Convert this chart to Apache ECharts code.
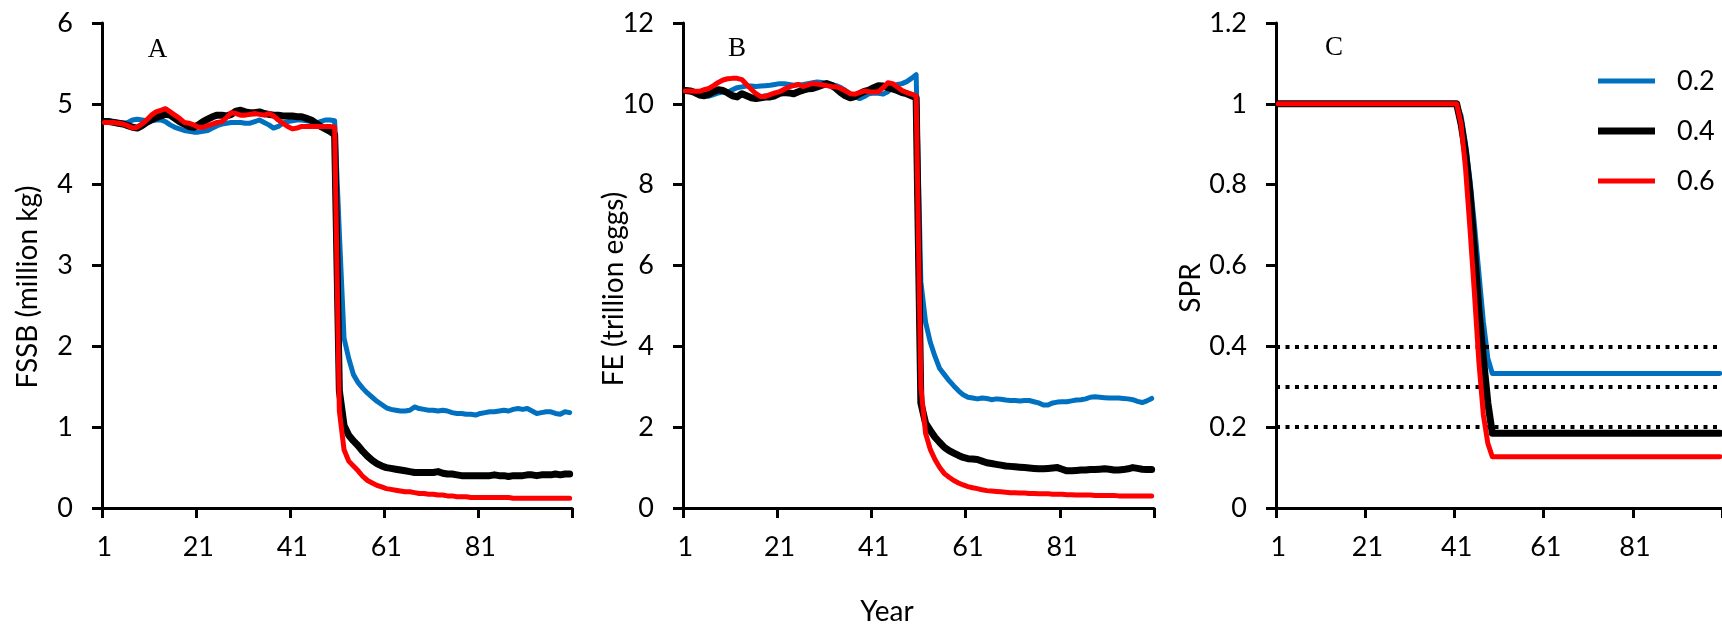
<!DOCTYPE html>
<html>
<head>
<meta charset="utf-8">
<title>FSSB, FE and SPR by year</title>
<script src="https://cdn.jsdelivr.net/npm/echarts@6/dist/echarts.min.js"></script>
<style>
  html, body { margin: 0; padding: 0; background: #ffffff; }
  #chart { width: 1722px; height: 630px; }
</style>
</head>
<body>
<div id="chart"></div>
<script>
// Simulation years 1..100 (category axis)
const years = Array.from({ length: 100 }, (_, i) => String(i + 1));

// Series names (legend) and colours
const seriesNames = ['0.2', '0.4', '0.6'];
const seriesColors = ['#0070C0', '#000000', '#FF0000'];
const seriesWidths = [5, 7, 5];

// Panel A: female spawning stock biomass (million kg)
const fssb02 = [
  4.79, 4.79, 4.78, 4.77, 4.76, 4.77, 4.80, 4.81, 4.80, 4.79,
  4.79, 4.80, 4.80, 4.78, 4.74, 4.71, 4.69, 4.67, 4.66, 4.65,
  4.65, 4.66, 4.67, 4.70, 4.73, 4.75, 4.76, 4.77, 4.77, 4.77,
  4.76, 4.76, 4.78, 4.80, 4.77, 4.74, 4.70, 4.72, 4.76, 4.78,
  4.79, 4.80, 4.80, 4.79, 4.78, 4.76, 4.78, 4.80, 4.80, 4.79,
  3.40, 2.10, 1.85, 1.65, 1.55, 1.48, 1.42, 1.37, 1.32, 1.28,
  1.24, 1.22, 1.21, 1.20, 1.20, 1.21, 1.25, 1.23, 1.22, 1.21,
  1.21, 1.20, 1.21, 1.20, 1.18, 1.17, 1.17, 1.16, 1.16, 1.15,
  1.17, 1.18, 1.19, 1.19, 1.20, 1.21, 1.20, 1.22, 1.23, 1.22,
  1.23, 1.20, 1.17, 1.18, 1.19, 1.19, 1.17, 1.16, 1.19, 1.18
];
const fssb04 = [
  4.78, 4.78, 4.77, 4.76, 4.75, 4.73, 4.71, 4.70, 4.73, 4.77,
  4.80, 4.83, 4.85, 4.87, 4.86, 4.82, 4.78, 4.75, 4.72, 4.71,
  4.74, 4.78, 4.81, 4.84, 4.86, 4.86, 4.85, 4.87, 4.91, 4.92,
  4.90, 4.89, 4.89, 4.90, 4.88, 4.87, 4.86, 4.86, 4.85, 4.85,
  4.85, 4.84, 4.84, 4.82, 4.80, 4.76, 4.72, 4.69, 4.66, 4.62,
  1.45, 1.02, 0.90, 0.83, 0.77, 0.70, 0.64, 0.59, 0.55, 0.52,
  0.50, 0.49, 0.48, 0.47, 0.46, 0.45, 0.44, 0.44, 0.44, 0.44,
  0.44, 0.45, 0.43, 0.42, 0.42, 0.41, 0.40, 0.40, 0.40, 0.40,
  0.40, 0.40, 0.40, 0.41, 0.40, 0.40, 0.39, 0.40, 0.40, 0.40,
  0.41, 0.41, 0.40, 0.41, 0.41, 0.41, 0.42, 0.41, 0.42, 0.42
];
const fssb06 = [
  4.77, 4.77, 4.77, 4.76, 4.75, 4.73, 4.70, 4.71, 4.75, 4.80,
  4.86, 4.90, 4.92, 4.94, 4.90, 4.86, 4.82, 4.77, 4.76, 4.74,
  4.71, 4.71, 4.73, 4.75, 4.77, 4.78, 4.83, 4.89, 4.88, 4.86,
  4.86, 4.87, 4.88, 4.87, 4.86, 4.88, 4.85, 4.80, 4.76, 4.72,
  4.69, 4.70, 4.72, 4.72, 4.72, 4.72, 4.72, 4.72, 4.72, 4.71,
  1.20, 0.72, 0.58, 0.52, 0.46, 0.39, 0.34, 0.31, 0.28, 0.26,
  0.24, 0.23, 0.22, 0.21, 0.20, 0.20, 0.19, 0.18, 0.18, 0.17,
  0.17, 0.16, 0.16, 0.15, 0.15, 0.14, 0.14, 0.14, 0.13, 0.13,
  0.13, 0.13, 0.13, 0.13, 0.13, 0.13, 0.13, 0.12, 0.12, 0.12,
  0.12, 0.12, 0.12, 0.12, 0.12, 0.12, 0.12, 0.12, 0.12, 0.12
];

// Panel B: fecundity (trillion eggs)
const fe02 = [
  10.34, 10.33, 10.30, 10.25, 10.20, 10.19, 10.23, 10.27, 10.29, 10.28,
  10.35, 10.40, 10.42, 10.44, 10.44, 10.43, 10.44, 10.45, 10.46, 10.48,
  10.50, 10.50, 10.48, 10.46, 10.47, 10.48, 10.50, 10.52, 10.54, 10.53,
  10.50, 10.48, 10.45, 10.40, 10.33, 10.25, 10.18, 10.13, 10.18, 10.25,
  10.27, 10.26, 10.24, 10.30, 10.40, 10.48, 10.50, 10.55, 10.63, 10.72,
  5.60, 4.60, 4.10, 3.75, 3.45, 3.30, 3.15, 3.02, 2.90, 2.80,
  2.74, 2.72, 2.70, 2.72, 2.71, 2.68, 2.70, 2.69, 2.67, 2.66,
  2.66, 2.65, 2.66, 2.66, 2.63, 2.60, 2.55, 2.55, 2.60, 2.62,
  2.63, 2.63, 2.65, 2.67, 2.68, 2.70, 2.74, 2.75, 2.74, 2.73,
  2.72, 2.72, 2.72, 2.71, 2.70, 2.68, 2.64, 2.61, 2.65, 2.71
];
const fe04 = [
  10.33, 10.32, 10.28, 10.22, 10.20, 10.24, 10.30, 10.35, 10.33, 10.27,
  10.20, 10.17, 10.25, 10.20, 10.15, 10.13, 10.15, 10.17, 10.17, 10.20,
  10.26, 10.28, 10.27, 10.25, 10.30, 10.34, 10.37, 10.38, 10.42, 10.46,
  10.50, 10.46, 10.38, 10.28, 10.20, 10.15, 10.18, 10.25, 10.31, 10.34,
  10.40, 10.45, 10.44, 10.40, 10.37, 10.33, 10.28, 10.25, 10.20, 10.15,
  2.60, 2.10, 1.92, 1.75, 1.62, 1.50, 1.42, 1.36, 1.30, 1.25,
  1.22, 1.21, 1.20, 1.16, 1.12, 1.10, 1.08, 1.06, 1.04, 1.03,
  1.02, 1.01, 1.00, 0.99, 0.98, 0.97, 0.97, 0.98, 0.99, 1.00,
  0.96, 0.92, 0.92, 0.93, 0.94, 0.94, 0.95, 0.95, 0.96, 0.97,
  0.96, 0.94, 0.94, 0.95, 0.97, 1.00, 0.98, 0.96, 0.95, 0.95
];
const fe06 = [
  10.32, 10.32, 10.31, 10.31, 10.35, 10.38, 10.45, 10.53, 10.59, 10.62,
  10.63, 10.63, 10.60, 10.48, 10.36, 10.25, 10.18, 10.18, 10.23, 10.27,
  10.30, 10.36, 10.42, 10.45, 10.48, 10.43, 10.47, 10.50, 10.49, 10.47,
  10.45, 10.43, 10.42, 10.38, 10.32, 10.25, 10.24, 10.28, 10.32, 10.30,
  10.29, 10.30, 10.40, 10.52, 10.50, 10.42, 10.33, 10.28, 10.24, 10.20,
  3.00, 1.85, 1.45, 1.20, 1.00, 0.85, 0.76, 0.68, 0.62, 0.57,
  0.53, 0.50, 0.48, 0.45, 0.43, 0.42, 0.41, 0.40, 0.39, 0.38,
  0.38, 0.37, 0.37, 0.36, 0.36, 0.35, 0.35, 0.35, 0.34, 0.34,
  0.34, 0.33, 0.33, 0.32, 0.32, 0.32, 0.32, 0.31, 0.31, 0.31,
  0.31, 0.31, 0.30, 0.30, 0.30, 0.30, 0.30, 0.30, 0.30, 0.30
];

// Panel C: spawning potential ratio
const spr02 = [
  1, 1, 1, 1, 1, 1, 1, 1, 1, 1,
  1, 1, 1, 1, 1, 1, 1, 1, 1, 1,
  1, 1, 1, 1, 1, 1, 1, 1, 1, 1,
  1, 1, 1, 1, 1, 1, 1, 1, 1, 1,
  1, 0.97, 0.90, 0.81, 0.70, 0.58, 0.46, 0.37, 0.333, 0.333,
  0.333, 0.333, 0.333, 0.333, 0.333, 0.333, 0.333, 0.333, 0.333, 0.333,
  0.333, 0.333, 0.333, 0.333, 0.333, 0.333, 0.333, 0.333, 0.333, 0.333,
  0.333, 0.333, 0.333, 0.333, 0.333, 0.333, 0.333, 0.333, 0.333, 0.333,
  0.333, 0.333, 0.333, 0.333, 0.333, 0.333, 0.333, 0.333, 0.333, 0.333,
  0.333, 0.333, 0.333, 0.333, 0.333, 0.333, 0.333, 0.333, 0.333, 0.333
];
const spr04 = [
  1, 1, 1, 1, 1, 1, 1, 1, 1, 1,
  1, 1, 1, 1, 1, 1, 1, 1, 1, 1,
  1, 1, 1, 1, 1, 1, 1, 1, 1, 1,
  1, 1, 1, 1, 1, 1, 1, 1, 1, 1,
  1, 0.95, 0.88, 0.78, 0.64, 0.49, 0.37, 0.26, 0.185, 0.185,
  0.185, 0.185, 0.185, 0.185, 0.185, 0.185, 0.185, 0.185, 0.185, 0.185,
  0.185, 0.185, 0.185, 0.185, 0.185, 0.185, 0.185, 0.185, 0.185, 0.185,
  0.185, 0.185, 0.185, 0.185, 0.185, 0.185, 0.185, 0.185, 0.185, 0.185,
  0.185, 0.185, 0.185, 0.185, 0.185, 0.185, 0.185, 0.185, 0.185, 0.185,
  0.185, 0.185, 0.185, 0.185, 0.185, 0.185, 0.185, 0.185, 0.185, 0.185
];
const spr06 = [
  1, 1, 1, 1, 1, 1, 1, 1, 1, 1,
  1, 1, 1, 1, 1, 1, 1, 1, 1, 1,
  1, 1, 1, 1, 1, 1, 1, 1, 1, 1,
  1, 1, 1, 1, 1, 1, 1, 1, 1, 1,
  1, 0.95, 0.84, 0.69, 0.53, 0.36, 0.23, 0.16, 0.127, 0.127,
  0.127, 0.127, 0.127, 0.127, 0.127, 0.127, 0.127, 0.127, 0.127, 0.127,
  0.127, 0.127, 0.127, 0.127, 0.127, 0.127, 0.127, 0.127, 0.127, 0.127,
  0.127, 0.127, 0.127, 0.127, 0.127, 0.127, 0.127, 0.127, 0.127, 0.127,
  0.127, 0.127, 0.127, 0.127, 0.127, 0.127, 0.127, 0.127, 0.127, 0.127,
  0.127, 0.127, 0.127, 0.127, 0.127, 0.127, 0.127, 0.127, 0.127, 0.127
];

// SPR reference levels (dotted lines)
const sprReferenceLevels = [0.4, 0.3, 0.2];

// Panel letters and axis titles
const panelLetters = ['A', 'B', 'C'];
const yAxisTitles = ['FSSB (million kg)', 'FE (trillion eggs)', 'SPR'];
const xAxisTitle = 'Year';

// Y-axis ranges per panel
const yRanges = [
  { min: 0, max: 6, interval: 1 },
  { min: 0, max: 12, interval: 2 },
  { min: 0, max: 1.2, interval: 0.2 }
];

const panelData = [
  [fssb02, fssb04, fssb06],
  [fe02, fe04, fe06],
  [spr02, spr04, spr06]
];

const TEXT_FONT = 'Lato';
const AXIS = '#000000';
const TICK_SIZE = 27;
const TITLE_SIZE = 28;

const grids = [
  { left: 102, top: 23, width: 470, height: 485 },
  { left: 683, top: 23, width: 471, height: 485 },
  { left: 1276, top: 23, width: 489, height: 485 }
];

const xAxes = grids.map((g, i) => ({
  type: 'category',
  gridIndex: i,
  data: years,
  boundaryGap: true,
  axisLine: { show: true, lineStyle: { color: AXIS, width: 3 } },
  axisTick: { show: true, interval: 19, length: 10, lineStyle: { color: AXIS, width: 3 } },
  axisLabel: { interval: 19, margin: 26, color: AXIS, fontFamily: TEXT_FONT, fontSize: TICK_SIZE },
  splitLine: { show: false }
}));

const yAxes = grids.map((g, i) => ({
  type: 'value',
  gridIndex: i,
  min: yRanges[i].min,
  max: yRanges[i].max,
  interval: yRanges[i].interval,
  axisLine: { show: true, lineStyle: { color: AXIS, width: 3 } },
  axisTick: { show: true, length: 10, lineStyle: { color: AXIS, width: 3 } },
  axisLabel: { margin: 29, color: AXIS, fontFamily: TEXT_FONT, fontSize: TICK_SIZE },
  splitLine: { show: false }
}));

const series = [];
panelData.forEach((group, p) => {
  group.forEach((values, s) => {
    const item = {
      type: 'line',
      name: seriesNames[s],
      xAxisIndex: p,
      yAxisIndex: p,
      data: values,
      symbol: 'none',
      clip: false,
      z: 3 + s,
      color: seriesColors[s],
      itemStyle: { color: seriesColors[s] },
      lineStyle: { color: seriesColors[s], width: seriesWidths[s], cap: 'round', join: 'round' },
      emphasis: { disabled: true },
      animation: false
    };
    if (p === 2 && s === 0) {
      item.markLine = {
        silent: true,
        symbol: 'none',
        animation: false,
        label: { show: false },
        lineStyle: { color: '#000000', width: 4, type: [4, 5.5], cap: 'butt' },
        data: sprReferenceLevels.map(v => ({ yAxis: v }))
      };
    }
    series.push(item);
  });
});

const legendRowsTop = [61, 111, 161];
const legends = seriesNames.map((name, i) => ({
  data: [name],
  left: 1593,
  top: legendRowsTop[i],
  orient: 'vertical',
  icon: 'rect',
  itemWidth: 57,
  itemHeight: seriesWidths[i],
  selectedMode: false,
  textStyle: { color: '#000000', fontFamily: TEXT_FONT, fontSize: TICK_SIZE, lineHeight: 30, padding: [0, 0, 0, 17] }
}));

const letterPos = [[157.5, 50], [737, 49], [1334, 48]];
const yTitlePos = [[28, 287], [614, 289], [1191, 288]];

const graphics = [];
panelLetters.forEach((t, i) => {
  graphics.push({
    type: 'text', x: letterPos[i][0], y: letterPos[i][1], silent: true,
    style: { text: t, fill: '#000000', fontFamily: 'Liberation Serif', fontSize: 27,
             align: 'center', verticalAlign: 'middle', textAlign: 'center', textVerticalAlign: 'middle' }
  });
});
yAxisTitles.forEach((t, i) => {
  graphics.push({
    type: 'text', x: yTitlePos[i][0], y: yTitlePos[i][1], rotation: Math.PI / 2, silent: true,
    style: { text: t, fill: '#000000', fontFamily: TEXT_FONT, fontSize: TITLE_SIZE,
             align: 'center', verticalAlign: 'middle', textAlign: 'center', textVerticalAlign: 'middle' }
  });
});
graphics.push({
  type: 'text', x: 887, y: 612, silent: true,
  style: { text: xAxisTitle, fill: '#000000', fontFamily: TEXT_FONT, fontSize: TITLE_SIZE,
           align: 'center', verticalAlign: 'middle', textAlign: 'center', textVerticalAlign: 'middle' }
});

const chart = echarts.init(document.getElementById('chart'), null, { renderer: 'canvas', width: 1722, height: 630 });
chart.setOption({
  backgroundColor: '#ffffff',
  animation: false,
  grid: grids,
  xAxis: xAxes,
  yAxis: yAxes,
  legend: legends,
  series: series,
  graphic: graphics
});
</script>
</body>
</html>
